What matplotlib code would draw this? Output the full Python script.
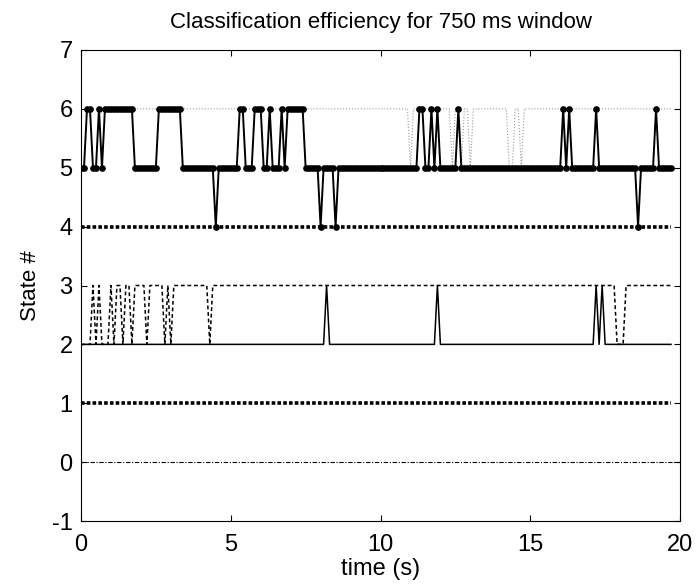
import numpy as np
import matplotlib
matplotlib.use("Agg")
from matplotlib import pyplot as plt

# sample spacing of the classifier output (s)
DT = 0.1

# each series as runs of (state, number of samples)
est_56 = [(5, 2), (6, 2), (5, 2), (6, 1), (5, 1), (6, 10), (5, 8), (6, 8),
          (5, 11), (4, 1), (5, 7), (6, 2), (5, 3), (6, 3), (5, 2), (6, 1),
          (5, 3), (6, 1), (5, 1), (6, 6), (5, 5), (4, 1), (5, 4), (4, 1),
          (5, 27), (6, 2), (5, 2), (6, 1), (5, 1), (6, 1), (5, 6), (6, 1),
          (5, 34), (6, 1), (5, 1), (6, 1), (5, 8), (6, 1), (5, 13), (4, 1),
          (5, 5), (6, 1), (5, 5)]
est_6 = [(6, 110), (5, 1), (6, 13), (5, 1), (6, 2), (5, 1), (6, 2), (5, 1),
         (6, 12), (5, 2), (6, 2), (5, 1), (6, 50)]
est_4 = [(4, 198)]
est_3 = [(2, 4), (3, 1), (2, 1), (3, 1), (2, 3), (3, 1), (2, 1), (3, 2),
         (2, 1), (3, 2), (2, 1), (3, 4), (2, 1), (3, 5), (2, 1), (3, 1),
         (2, 1), (3, 12), (2, 1), (3, 135), (2, 3), (3, 16)]
est_2 = [(2, 82), (3, 1), (2, 36), (3, 1), (2, 52), (3, 1), (2, 1), (3, 1),
         (2, 23)]
est_1 = [(1, 198)]
est_0 = [(0, 201)]

x_ticks = [0, 5, 10, 15, 20]
y_ticks = [-1, 0, 1, 2, 3, 4, 5, 6, 7]


def expand(runs):
    """Turn (state, count) runs into a sampled series with its time axis."""
    y = np.concatenate([np.full(n, v, dtype=float) for v, n in runs])
    return np.arange(len(y)) * DT, y


plt.rcParams["font.family"] = ["Liberation Sans", "DejaVu Sans"]
plt.rcParams["axes.unicode_minus"] = False

fig = plt.figure(figsize=(6.97, 5.84), dpi=100)
ax = fig.add_axes([81 / 697, 1 - 521 / 584, 599 / 697, 471 / 584])

t, y = expand(est_0)
ax.plot(t, y, color="k", lw=0.8, dashes=(4, 1.5, 1, 1.5))
t, y = expand(est_1)
ax.plot(t, y, color="k", lw=2.6, dashes=(1.0, 0.6), dash_capstyle="butt")
t, y = expand(est_2)
ax.plot(t, y, color="k", lw=1.1)
t, y = expand(est_3)
ax.plot(t, y, color="k", lw=1.1, dashes=(2.5, 1.8))
t, y = expand(est_4)
ax.plot(t, y, color="k", lw=2.6, dashes=(1.0, 0.6), dash_capstyle="butt")
t, y = expand(est_6)
ax.plot(t, y, color="0.6", lw=0.8, linestyle=":")
t, y = expand(est_56)
ax.plot(t, y, color="k", lw=1.4, marker="o", ms=3.8)

ax.set_xlim(0, 20)
ax.set_ylim(-1, 7)
ax.set_xticks(x_ticks)
ax.set_yticks(y_ticks)
ax.tick_params(direction="in", top=True, right=True, length=4, labelsize=17,
               pad=6)
ax.tick_params(axis="x", pad=9.5)
for s in ax.spines.values():
    s.set_linewidth(0.8)

ax.set_title("Classification efficiency for 750 ms window", fontsize=16, pad=16)
ax.set_xlabel("time (s)", fontsize=17, labelpad=1)
ax.set_ylabel("State #", fontsize=16, labelpad=8)

fig.savefig("out.png", dpi=100)
